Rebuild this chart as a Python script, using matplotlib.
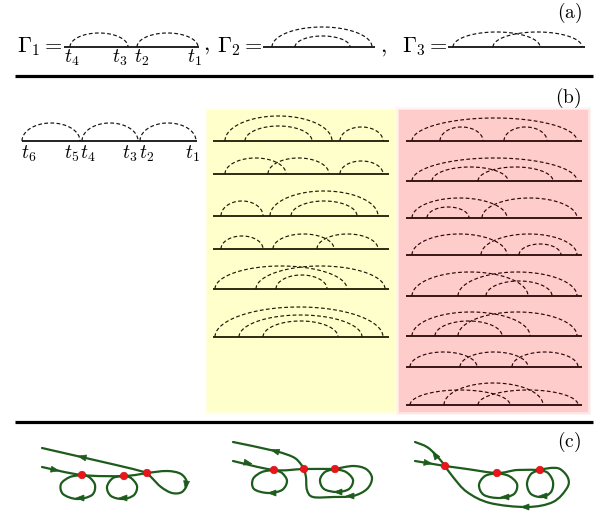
import numpy as np
import matplotlib
matplotlib.use('Agg')
import matplotlib.pyplot as plt
from matplotlib.path import Path
from matplotlib.patches import PathPatch, Rectangle, Circle, Polygon

plt.rcParams['mathtext.fontset'] = 'cm'

# ---- panel (a): second order diagrams, arcs as (start, end, height) ----
gamma_names = [r'$\Gamma_1 =$', r'$\Gamma_2 =$', r'$\Gamma_3 =$']
gamma_name_x = [17, 217, 402]
gamma_spans = [(64, 199), (263, 375), (448, 585)]
gamma_arcs = [
    [(70, 128, 14), (137, 198, 14)],
    [(272, 372, 20), (295, 350, 11)],
    [(453, 540, 15), (493, 582, 15)],
]
gamma1_times = [r'$t_4$', r'$t_3$', r'$t_2$', r'$t_1$']
gamma1_time_x = [72, 120, 142, 194]

# ---- panel (b): third order diagrams ----
chain_span = (22, 197)
chain_arcs = [(22, 80, 18), (82, 138, 18), (140, 196, 18)]
chain_times = [r'$t_6$', r'$t_5$', r'$t_4$', r'$t_3$', r'$t_2$', r'$t_1$']
chain_time_x = [29, 72, 88, 130, 147, 192]

yellow_span = (213, 389)
yellow_rows = [141, 174, 216, 249, 289, 337]
yellow_arcs = [
    [(225, 332, 25), (245, 312, 15), (340, 383, 14)],
    [(225, 286, 16), (268, 329, 16), (340, 383, 13)],
    [(221, 263, 15), (270, 378, 25), (291, 357, 15)],
    [(221, 263, 13), (273, 334, 15), (317, 378, 15)],
    [(215, 347, 23), (256, 385, 23), (276, 327, 14)],
    [(215, 383, 30), (239, 362, 22), (263, 338, 16)],
]

pink_span = (406, 582)
pink_rows = [141, 181, 218, 255, 296, 336, 367, 405]
pink_arcs = [
    [(412, 577, 23), (440, 483, 14), (504, 547, 14)],
    [(412, 577, 23), (432, 508, 14), (478, 553, 14)],
    [(412, 507, 20), (427, 469, 11), (482, 577, 20)],
    [(412, 507, 21), (481, 577, 21), (519, 561, 11)],
    [(412, 528, 24), (458, 577, 24), (486, 552, 15)],
    [(412, 530, 24), (435, 502, 15), (458, 577, 24)],
    [(410, 477, 15), (460, 528, 15), (512, 578, 15)],
    [(410, 510, 15), (444, 543, 22), (478, 578, 15)],
]

# ---- panel (c): trajectories on the contour ----
vertices = [
    [(82, 475), (124, 476), (147, 473)],
    [(274, 470), (304, 469), (335, 469)],
    [(445, 466), (497, 473), (540, 470)],
]
strands = [
    # first graph
    [(42, 467), (82, 475), (124, 476), (147, 473)],
    [(147, 473), (133, 469), (90, 459), (42, 448)],
    [(82, 475), (70, 477), (61, 484), (63, 494), (77, 499), (92, 495), (95, 485), (89, 477), (82, 475)],
    [(124, 476), (113, 478), (107, 487), (111, 496), (123, 499), (134, 495), (137, 486), (131, 478), (124, 476)],
    [(147, 473), (167, 471), (181, 474), (187, 483), (182, 492), (172, 493), (161, 487), (152, 478), (147, 473)],
    # second graph
    [(233, 461), (274, 470), (304, 469), (335, 469)],
    [(233, 442), (275, 451), (293, 457), (300, 463), (304, 469)],
    [(274, 470), (262, 472), (253, 479), (254, 489), (268, 493), (282, 490), (287, 481), (282, 473), (274, 470)],
    [(335, 469), (325, 472), (320, 480), (324, 489), (337, 492), (349, 489), (353, 480), (346, 472), (335, 469)],
    [(304, 469), (306, 477), (307, 490), (313, 497), (333, 497), (353, 496), (367, 489), (372, 478),
     (366, 469), (353, 466), (335, 469)],
    # third graph
    [(415, 461), (445, 466)],
    [(415, 442), (427, 447), (437, 456), (445, 466)],
    [(445, 466), (467, 469), (497, 473), (517, 470), (540, 470)],
    [(497, 473), (485, 476), (479, 485), (484, 495), (500, 498), (514, 494), (517, 484), (509, 476), (497, 473)],
    [(540, 470), (531, 474), (527, 484), (531, 494), (542, 497), (551, 492), (553, 482), (548, 473), (540, 470)],
    [(445, 466), (453, 477), (467, 492), (490, 503), (527, 507), (553, 502), (567, 488), (568, 478),
     (560, 469), (550, 468), (540, 470)],
]
# arrow heads: position and heading
arrows = [
    ((55, 470), (1, 0.2)), ((82, 457), (-1, -0.23)), ((80, 498), (-1, 0)),
    ((123, 498), (-1, 0)), ((186, 485), (-0.15, 1)),
    ((248, 463), (1, 0.2)), ((275, 451), (-1, -0.3)), ((272, 493), (-1, 0)),
    ((338, 492), (-1, 0)), ((350, 496), (-1, 0)),
    ((428, 463), (1, 0.15)), ((435, 455), (-0.7, -1)), ((505, 497), (-1, 0)),
    ((543, 496), (-1, 0)), ((525, 507), (-1, 0)),
]

GREEN = '#1d5c1d'
INK = '#111111'


def smooth_path(pts):
    # Catmull-Rom style cubic segments through the way points
    p = np.asarray(pts, dtype=float)
    verts = [p[0]]
    codes = [Path.MOVETO]
    n = len(p)
    for i in range(n - 1):
        p0 = p[i - 1] if i > 0 else p[i]
        p3 = p[i + 2] if i + 2 < n else p[i + 1]
        c1 = p[i] + (p[i + 1] - p0) / 6.0
        c2 = p[i + 1] - (p3 - p[i]) / 6.0
        verts += [c1, c2, p[i + 1]]
        codes += [Path.CURVE4] * 3
    return Path(verts, codes)


def draw_diagram(ax, span, y0, arcs, color=INK):
    ax.plot(span, [y0, y0], color=color, lw=1.3, solid_capstyle='butt', zorder=3)
    t = np.linspace(0, np.pi, 80)
    for x0, x1, h in arcs:
        xc, a = (x0 + x1) / 2.0, (x1 - x0) / 2.0
        ax.plot(xc - a * np.cos(t), y0 - h * np.sin(t), color=color, lw=0.85,
                linestyle=(0, (3.2, 2.0)), zorder=3)


def soft_box(ax, x0, y0, x1, y1, color):
    for grow, alpha in [(3.0, 0.18), (1.5, 0.4), (0.0, 1.0)]:
        ax.add_patch(Rectangle((x0 - grow, y0 - grow), x1 - x0 + 2 * grow, y1 - y0 + 2 * grow,
                               facecolor=color, edgecolor='none', alpha=alpha, zorder=1))


fig = plt.figure(figsize=(6.06, 5.12), dpi=100)
ax = fig.add_axes([0, 0, 1, 1])
ax.set_xlim(0, 606)
ax.set_ylim(512, 0)
ax.axis('off')

# panel (a)
for name, nx, span, arcs in zip(gamma_names, gamma_name_x, gamma_spans, gamma_arcs):
    ax.text(nx, 52, name, fontsize=16, ha='left', va='baseline')
    draw_diagram(ax, span, 47, arcs)
for lab, x in zip(gamma1_times, gamma1_time_x):
    ax.text(x, 63, lab, fontsize=14, ha='center', va='baseline')
ax.text(203, 50, r'$,$', fontsize=16, ha='left', va='baseline')
ax.text(380, 52, r'$,$', fontsize=16, ha='left', va='baseline')
ax.text(570, 13, r'$\mathrm{(a)}$', fontsize=14, ha='center', va='center')
ax.plot([15, 593], [76, 76], color='black', lw=2.3, solid_capstyle='butt')

# panel (b)
ax.text(568, 98, r'$\mathrm{(b)}$', fontsize=14, ha='center', va='center')
draw_diagram(ax, chain_span, 141, chain_arcs)
for lab, x in zip(chain_times, chain_time_x):
    ax.text(x, 159, lab, fontsize=14, ha='center', va='baseline')

soft_box(ax, 207, 110, 395, 412, '#ffffcc')
soft_box(ax, 399, 110, 588, 412, '#ffcccc')
for y0, arcs in zip(yellow_rows, yellow_arcs):
    draw_diagram(ax, yellow_span, y0, arcs, color='#1c1a05')
for y0, arcs in zip(pink_rows, pink_arcs):
    draw_diagram(ax, pink_span, y0, arcs, color='#2a0808')
ax.plot([15, 593], [422, 422], color='black', lw=2.3, solid_capstyle='butt')

# panel (c)
ax.text(569, 442, r'$\mathrm{(c)}$', fontsize=14, ha='center', va='center')
for pts in strands:
    ax.add_patch(PathPatch(smooth_path(pts), facecolor='none', edgecolor=GREEN, lw=1.6,
                           capstyle='round', joinstyle='round', zorder=4))
for (px, py), (dx, dy) in arrows:
    d = np.array([dx, dy], dtype=float)
    d /= np.hypot(*d)
    nrm = np.array([-d[1], d[0]])
    p = np.array([px, py], dtype=float)
    tip = p + d * 4.0
    base = p - d * 4.0
    ax.add_patch(Polygon([tip, base + nrm * 3.0, base - nrm * 3.0], closed=True,
                         facecolor=GREEN, edgecolor=GREEN, lw=0.5, zorder=5))
for trio in vertices:
    for vx, vy in trio:
        ax.add_patch(Circle((vx, vy), 3.8, facecolor='#e8161b', edgecolor='#d01010', lw=0.4, zorder=6))

fig.savefig('out.png', dpi=100)
